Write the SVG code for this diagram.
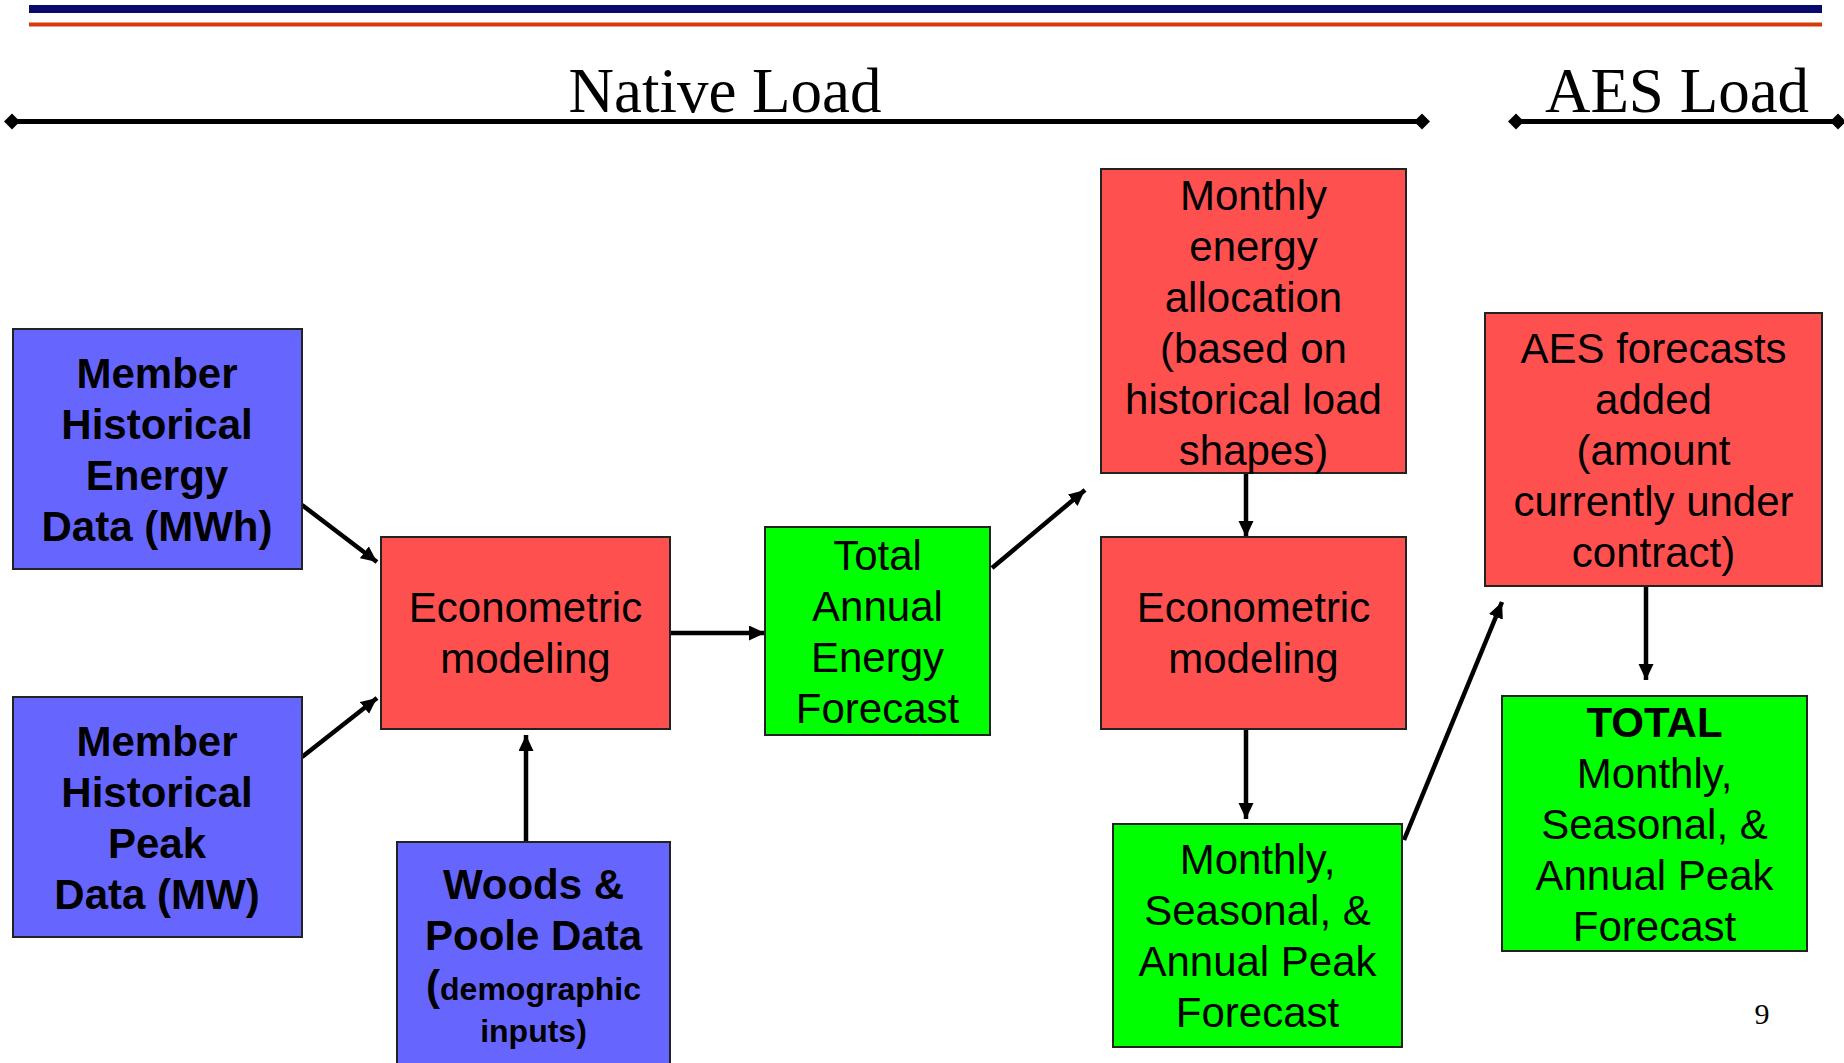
<svg xmlns="http://www.w3.org/2000/svg" width="1844" height="1063" viewBox="0 0 1844 1063">
<style>
.box{stroke:#222;stroke-width:2}
.blue{fill:#6666FF}
.red{fill:#FF5050}
.green{fill:#00FF00}
.t{font-family:"Liberation Sans",Arial,sans-serif;font-size:42px;fill:#000;text-anchor:middle}
.b{font-weight:bold}
.s{font-size:32px}
.hdr{font-family:"Liberation Serif","Times New Roman",serif;font-size:63px;fill:#000;text-anchor:middle}
.conn{stroke:#000;stroke-width:4.5;fill:none;marker-end:url(#ah)}
.rule{stroke:#000;stroke-width:5;fill:none}
</style>
<defs>
<marker id="ah" markerUnits="userSpaceOnUse" markerWidth="18" markerHeight="16" refX="16" refY="7.5" orient="auto">
<path d="M0,0 L16,7.5 L0,15 Z" fill="#000"/>
</marker>
<marker id="dm" markerUnits="userSpaceOnUse" markerWidth="16" markerHeight="18" refX="8" refY="9" orient="auto">
<path d="M0,9 L8,1 L16,9 L8,17 Z" fill="#000"/>
</marker>
</defs>

<g id="header">
<rect x="29" y="5" width="1793" height="8" fill="#0A0A6E"/>
<rect x="29" y="22.5" width="1793" height="4" fill="#D63A0C"/>
<text class="hdr" x="725" y="112">Native Load</text>
<text class="hdr" x="1677" y="112">AES Load</text>
<line class="rule" x1="12" y1="121.5" x2="1422" y2="121.5" marker-start="url(#dm)" marker-end="url(#dm)"/>
<line class="rule" x1="1516" y1="121.5" x2="1838" y2="121.5" marker-start="url(#dm)" marker-end="url(#dm)"/>
</g>

<g id="connectors">
<line class="conn" x1="302" y1="505" x2="377" y2="562"/>
<line class="conn" x1="302" y1="757" x2="377" y2="698"/>
<line class="conn" x1="526" y1="842" x2="526" y2="735"/>
<line class="conn" x1="670" y1="633" x2="765" y2="633"/>
<line class="conn" x1="992" y1="568" x2="1085" y2="490"/>
<line class="conn" x1="1246" y1="473" x2="1246" y2="537"/>
<line class="conn" x1="1246" y1="729" x2="1246" y2="819"/>
<line class="conn" x1="1404" y1="840" x2="1502" y2="602"/>
<line class="conn" x1="1646" y1="586" x2="1646" y2="680"/>
</g>

<g id="member-energy">
<rect class="box blue" x="13" y="329" width="289" height="240"/>
<text class="t b" x="157" y="388">Member</text>
<text class="t b" x="157" y="439">Historical</text>
<text class="t b" x="157" y="490">Energy</text>
<text class="t b" x="157" y="541">Data (MWh)</text>
</g>

<g id="member-peak">
<rect class="box blue" x="13" y="697" width="289" height="240"/>
<text class="t b" x="157" y="756">Member</text>
<text class="t b" x="157" y="807">Historical</text>
<text class="t b" x="157" y="858">Peak</text>
<text class="t b" x="157" y="909">Data (MW)</text>
</g>

<g id="econ1">
<rect class="box red" x="381" y="537" width="289" height="192"/>
<text class="t" x="525.5" y="622">Econometric</text>
<text class="t" x="525.5" y="673">modeling</text>
</g>

<g id="woods-poole">
<rect class="box blue" x="397" y="842" width="273" height="240"/>
<text class="t b" x="533.5" y="899">Woods &amp;</text>
<text class="t b" x="533.5" y="950">Poole Data</text>
<text class="t b" x="533.5" y="1000">(<tspan class="s">demographic</tspan></text>
<text class="t b s" x="533.5" y="1042">inputs)</text>
</g>

<g id="total-annual">
<rect class="box green" x="765" y="527" width="225" height="208"/>
<text class="t" x="877.5" y="570">Total</text>
<text class="t" x="877.5" y="621">Annual</text>
<text class="t" x="877.5" y="672">Energy</text>
<text class="t" x="877.5" y="723">Forecast</text>
</g>

<g id="monthly-allocation">
<rect class="box red" x="1101" y="169" width="305" height="304"/>
<text class="t" x="1253.5" y="210">Monthly</text>
<text class="t" x="1253.5" y="261">energy</text>
<text class="t" x="1253.5" y="312">allocation</text>
<text class="t" x="1253.5" y="363">(based on</text>
<text class="t" x="1253.5" y="414">historical load</text>
<text class="t" x="1253.5" y="465">shapes)</text>
</g>

<g id="econ2">
<rect class="box red" x="1101" y="537" width="305" height="192"/>
<text class="t" x="1253.5" y="622">Econometric</text>
<text class="t" x="1253.5" y="673">modeling</text>
</g>

<g id="peak-forecast">
<rect class="box green" x="1113" y="824" width="289" height="223"/>
<text class="t" x="1257.5" y="874">Monthly,</text>
<text class="t" x="1257.5" y="925">Seasonal, &amp;</text>
<text class="t" x="1257.5" y="976">Annual Peak</text>
<text class="t" x="1257.5" y="1027">Forecast</text>
</g>

<g id="aes-forecasts">
<rect class="box red" x="1485" y="313" width="337" height="273"/>
<text class="t" x="1653.5" y="363">AES forecasts</text>
<text class="t" x="1653.5" y="414">added</text>
<text class="t" x="1653.5" y="465">(amount</text>
<text class="t" x="1653.5" y="516">currently under</text>
<text class="t" x="1653.5" y="567">contract)</text>
</g>

<g id="total-peak">
<rect class="box green" x="1502" y="696" width="305" height="255"/>
<text class="t b" x="1654.5" y="737">TOTAL</text>
<text class="t" x="1654.5" y="788">Monthly,</text>
<text class="t" x="1654.5" y="839">Seasonal, &amp;</text>
<text class="t" x="1654.5" y="890">Annual Peak</text>
<text class="t" x="1654.5" y="941">Forecast</text>
</g>

<text x="1762" y="1024" font-family="'Liberation Serif','Times New Roman',serif" font-size="30" text-anchor="middle">9</text>
</svg>
